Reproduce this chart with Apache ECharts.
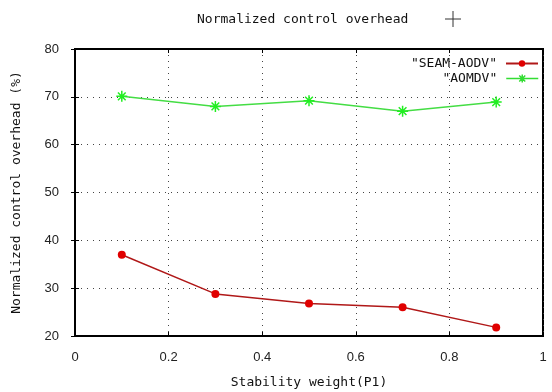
<!DOCTYPE html>
<html>
<head>
<meta charset="utf-8">
<script src="https://cdn.jsdelivr.net/npm/echarts@6/dist/echarts.min.js"></script>
<style>
  html, body { margin: 0; padding: 0; background: #fff; }
  #chart { width: 552px; height: 392px; }
</style>
</head>
<body>
<div id="chart"></div>
<script>
"use strict";

// stability weight P1
const weights = [0.1, 0.3, 0.5, 0.7, 0.9];
// normalized control overhead (%)
const seamAodv = [37, 28.8, 26.8, 26, 21.8];
const aomdv = [70.1, 68, 69.2, 67, 68.9];

const xTicks = [0, 0.2, 0.4, 0.6, 0.8, 1];

const mono = "DejaVu Sans Mono";
const sans = "Liberation Sans";
const star = "path://M0,-5L0,5M-5,0L5,0M-3.5,-3.5L3.5,3.5M-3.5,3.5L3.5,-3.5";
const starLine = "path://M0,0L32,0M16,-4L16,4M12,0L20,0M13,-3L19,3M13,3L19,-3";

const chart = echarts.init(document.getElementById("chart"), null, { renderer: "canvas" });

const pairs = vals => weights.map((w, i) => [w, vals[i]]);

const dotted = { show: true, lineStyle: { color: "#444", width: 1, type: [1, 5] } };
const legendText = { fontFamily: mono, fontSize: 13, color: "#111", padding: [0, 4, 0, 0] };

chart.setOption({
  animation: false,
  backgroundColor: "#fff",
  title: {
    text: "Normalized control overhead",
    left: 192,
    top: 8,
    textStyle: { fontFamily: mono, fontSize: 13, fontWeight: "normal", color: "#111" }
  },
  graphic: [
    { type: "line", shape: { x1: 445, y1: 19, x2: 461, y2: 19 }, style: { stroke: "#333", lineWidth: 1 } },
    { type: "line", shape: { x1: 453, y1: 11, x2: 453, y2: 27 }, style: { stroke: "#333", lineWidth: 1 } }
  ],
  legend: [
    {
      data: ['"SEAM-AODV"'],
      right: 8,
      top: 52,
      align: "right",
      itemWidth: 32,
      itemHeight: 8,
      textStyle: legendText
    },
    {
      data: [{ name: '"AOMDV"', icon: starLine }],
      right: 8,
      top: 67,
      align: "right",
      itemWidth: 32,
      itemHeight: 8,
      itemStyle: { color: "#22ee22", borderColor: "#33dd33", borderWidth: 1.5 },
      textStyle: legendText
    }
  ],
  grid: {
    left: 75,
    right: 9,
    top: 49,
    bottom: 56,
    outerBoundsMode: "none",
    show: true,
    borderColor: "#000",
    borderWidth: 2
  },
  xAxis: [
    {
      type: "value",
      min: 0,
      max: 1,
      interval: 0.2,
      name: "Stability weight(P1)",
      nameLocation: "middle",
      nameGap: 40,
      nameTextStyle: { fontFamily: mono, fontSize: 13, color: "#111" },
      axisLine: { show: true, lineStyle: { color: "#000", width: 2 } },
      axisTick: { show: true, inside: true, length: 4, lineStyle: { color: "#000" } },
      axisLabel: {
        margin: 15,
        fontFamily: sans,
        fontSize: 13,
        color: "#222",
        formatter: v => (xTicks.indexOf(v) >= 0 ? String(v) : "")
      },
      splitLine: dotted
    },
    {
      type: "value",
      position: "top",
      min: 0,
      max: 1,
      interval: 0.2,
      axisLine: { show: true, lineStyle: { color: "#000", width: 2 } },
      axisTick: { show: true, inside: true, length: 4, lineStyle: { color: "#000" } },
      axisLabel: { show: false },
      splitLine: { show: false }
    }
  ],
  yAxis: [
    {
      type: "value",
      min: 20,
      max: 80,
      interval: 10,
      name: "Normalized control overhead (%)",
      nameLocation: "middle",
      nameGap: 52,
      nameTextStyle: { fontFamily: mono, fontSize: 13, color: "#111" },
      axisLine: { show: true, lineStyle: { color: "#000", width: 2 } },
      axisTick: { show: true, inside: true, length: 4, lineStyle: { color: "#000" } },
      axisLabel: { margin: 16, fontFamily: sans, fontSize: 13, color: "#222" },
      splitLine: dotted
    },
    {
      type: "value",
      position: "right",
      min: 20,
      max: 80,
      interval: 10,
      axisLine: { show: true, lineStyle: { color: "#000", width: 2 } },
      axisTick: { show: true, inside: true, length: 4, lineStyle: { color: "#000" } },
      axisLabel: { show: false },
      splitLine: { show: false }
    }
  ],
  series: [
    {
      name: '"SEAM-AODV"',
      type: "line",
      data: pairs(seamAodv),
      symbol: "circle",
      symbolSize: 8,
      lineStyle: { color: "#b01818", width: 1.5 },
      itemStyle: { color: "#e00000" }
    },
    {
      name: '"AOMDV"',
      type: "line",
      data: pairs(aomdv),
      symbol: star,
      symbolSize: 11,
      lineStyle: { color: "#44dd44", width: 1.5 },
      itemStyle: { color: "#22ee22", borderColor: "#22ee22", borderWidth: 1.5 }
    }
  ]
});

window.onresize = () => {
  chart.resize();
};
</script>
</body>
</html>
